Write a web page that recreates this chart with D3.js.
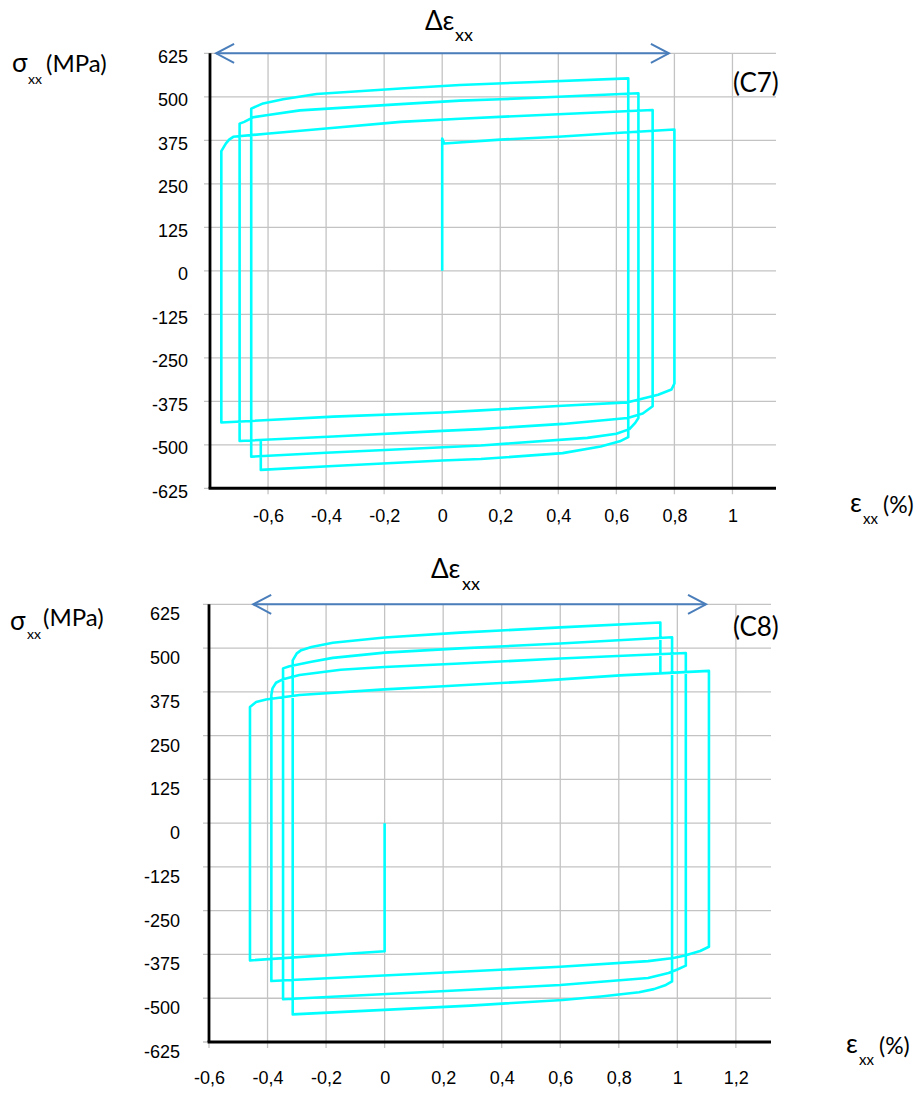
<!DOCTYPE html>
<html><head><meta charset="utf-8">
<script src="https://cdnjs.cloudflare.com/ajax/libs/d3/7.8.5/d3.min.js"></script>
<style>body{margin:0;background:#fff} svg{display:block}</style>
</head><body><svg id="c" width="920" height="1094"></svg>
<script>
// ---------- tick values ----------
const yTicks = [625, 500, 375, 250, 125, 0, -125, -250, -375, -500, -625];
const c7XTicks = [-0.6, -0.4, -0.2, 0, 0.2, 0.4, 0.6, 0.8, 1];
const c8XTicks = [-0.6, -0.4, -0.2, 0, 0.2, 0.4, 0.6, 0.8, 1, 1.2];

// ---------- C7 branches [strain %, stress MPa] ----------
const c7Loading = [[0,0],[0,380],[0.007,366],[0.2,377],[0.4,385],[0.6,396],[0.8,406]];
const c7Down1 = [[0.8,406],[0.8,-324],[0.79,-341],[0.744,-356],[0.678,-370],[0.639,-378],[0.415,-388],[0.133,-401],[0,-407],[-0.375,-419],[-0.761,-436]];
const c7Up1 = [[-0.761,-436],[-0.761,344],[-0.745,366],[-0.734,377],[-0.72,385],[-0.606,394],[-0.4,409],[-0.143,428],[0.061,437],[0.4,450],[0.725,462]];
const c7Down2 = [[0.725,462],[0.725,-389],[0.691,-410],[0.639,-423],[0.415,-440],[0.133,-455],[0,-460],[-0.375,-476],[-0.698,-489]];
const c7Up2 = [[-0.698,-489],[-0.698,423],[-0.682,428],[-0.652,441],[-0.606,447],[-0.49,461],[-0.143,479],[0.061,489],[0.2,493],[0.4,500],[0.676,510]];
const c7Down3 = [[0.676,510],[0.676,-423],[0.665,-437],[0.645,-455],[0.6,-468],[0.5,-480],[0.133,-502],[-0.4,-523],[-0.658,-534]];
const c7Up3 = [[-0.658,-534],[-0.658,466],[-0.617,481],[-0.548,493],[-0.433,508],[-0.143,524],[0.061,534],[0.3,542],[0.641,553]];
const c7Down4 = [[0.641,553],[0.641,-478],[0.612,-490],[0.546,-505],[0.415,-524],[0.133,-541],[0,-545],[-0.375,-561],[-0.625,-572]];
const c7Up4 = [[-0.625,-572],[-0.625,-486]];

// ---------- C8 branches ----------
const c8Loading = [[0,0],[0,-366],[-0.46,-392]];
const c8Up1 = [[-0.46,-392],[-0.46,332],[-0.439,346],[-0.405,353],[-0.291,366],[0,382],[0.2,391],[0.5,405],[0.805,422],[1.108,435]];
const c8Down1 = [[1.108,435],[1.108,-353],[1.078,-365],[1.026,-378],[0.987,-385],[0.9,-394],[0.6,-410],[0.293,-423],[-0.387,-451]];
const c8Up2 = [[-0.387,-451],[-0.387,366],[-0.383,385],[-0.371,401],[-0.35,410],[-0.291,423],[-0.15,438],[0,446],[0.257,456],[0.6,470],[1.029,486]];
const c8Down2 = [[1.029,486],[1.029,-407],[1.0,-418],[0.97,-428],[0.9,-442],[0.6,-462],[0.293,-476],[-0.347,-503]];
const c8Up3 = [[-0.347,-503],[-0.347,442],[-0.325,448],[-0.25,461],[-0.177,472],[0,487],[0.257,499],[0.6,513],[0.982,531]];
const c8Down3 = [[0.982,531],[0.982,-452],[0.961,-462],[0.92,-474],[0.869,-483],[0.739,-495],[0.608,-505],[0.293,-521],[-0.314,-546]];
const c8Up4 = [[-0.314,-546],[-0.314,465],[-0.3,485],[-0.285,494],[-0.25,503],[-0.177,515],[0,530],[0.257,544],[0.6,559],[0.942,573]];
const c8Down4 = [[0.942,573],[0.942,429]];

// Δε arrow extents (strain %)
const c7Range = [-0.779, 0.781];
const c8Range = [-0.449, 1.098];

const charts = [
  { name: "(C7)", branches: [c7Loading,c7Down1,c7Up1,c7Down2,c7Up2,c7Down3,c7Up3,c7Down4,c7Up4],
    xTicks: c7XTicks, xDomain: [-0.8, 1.15], xRange: [210, 776], yRange: [488.3, 53.3],
    range: c7Range, xPad: 21.2, yLabX: 22, yLabDy: 9,
    sig: {x:12, y:71.5, subx:28, suby:83.5, mpx:46, mpy:71.5},
    dE: {x:425, y:30, subx:455, suby:41},
    tag: {x:733, y:92},
    eps: {x:850, y:512, subx:863, suby:524, px:883, py:513} },
  { name: "(C8)", branches: [c8Loading,c8Up1,c8Down1,c8Up2,c8Down2,c8Up3,c8Down3,c8Up4,c8Down4],
    xTicks: c8XTicks, xDomain: [-0.6, 1.32], xRange: [209, 771], yRange: [1042, 604.3],
    range: c8Range, xPad: 29.2, yLabX: 29, yLabDy: 15.5,
    sig: {x:10, y:630, subx:27, suby:638.5, mpx:43, mpy:626},
    dE: {x:431, y:578, subx:462, suby:590},
    tag: {x:733, y:636},
    eps: {x:846, y:1052.5, subx:859, suby:1065, px:879, py:1054} }
];

const svg = d3.select("#c");
const fmt = v => String(+v.toFixed(1)).replace(".", ",");

charts.forEach(cfg => {
  const g = svg.append("g");
  const x = d3.scaleLinear().domain(cfg.xDomain).range(cfg.xRange);
  const y = d3.scaleLinear().domain([-625, 625]).range(cfg.yRange);
  const x0 = x(cfg.xDomain[0]), x1 = x(cfg.xDomain[1]);
  const yTop = y(625), yBot = y(-625);

  // grid
  g.selectAll(".gx").data(cfg.xTicks).join("line")
    .attr("x1", d => x(d)).attr("x2", d => x(d))
    .attr("y1", yTop).attr("y2", yBot + 6)
    .attr("stroke", "#c3c3c3").attr("stroke-width", 1.3);
  g.selectAll(".gy").data(yTicks).join("line")
    .attr("x1", x0 - 6).attr("x2", x1)
    .attr("y1", d => y(d)).attr("y2", d => y(d))
    .attr("stroke", "#c3c3c3").attr("stroke-width", 1.3);

  // curve
  const pts = [].concat(...cfg.branches);
  const line = d3.line().x(d => x(d[0])).y(d => y(d[1]));
  g.append("path").attr("d", line(pts))
    .attr("fill", "none").attr("stroke", "#00ffff")
    .attr("stroke-width", 2.6).attr("stroke-linejoin", "round");

  // axes lines
  g.append("line").attr("x1", x0).attr("x2", x0).attr("y1", yTop).attr("y2", yBot)
    .attr("stroke", "#000").attr("stroke-width", 2.8);
  g.append("line").attr("x1", x0 - 1.4).attr("x2", x1).attr("y1", yBot).attr("y2", yBot)
    .attr("stroke", "#000").attr("stroke-width", 3);

  // tick labels
  const ax = g.append("g").attr("transform", `translate(0,${yBot})`)
    .call(d3.axisBottom(x).tickValues(cfg.xTicks).tickFormat(fmt).tickSize(0).tickPadding(cfg.xPad));
  ax.select(".domain").remove();
  ax.selectAll("text").attr("font-family", "'Liberation Sans', Arial, sans-serif")
    .attr("font-size", 18).attr("fill", "#000");
  const ay = g.append("g").attr("transform", `translate(${x0},0)`)
    .call(d3.axisLeft(y).tickValues(yTicks).tickFormat(d => String(d)).tickSize(0).tickPadding(cfg.yLabX));
  ay.select(".domain").remove();
  ay.selectAll("text").attr("font-family", "'Liberation Sans', Arial, sans-serif")
    .attr("font-size", 18).attr("fill", "#000").attr("dy", cfg.yLabDy);

  // Δε arrow
  const ya = y(625), xa = x(cfg.range[0]), xb = x(cfg.range[1]);
  const blue = "#4a7ebb";
  g.append("line").attr("x1", xa).attr("x2", xb).attr("y1", ya).attr("y2", ya)
    .attr("stroke", blue).attr("stroke-width", 2);
  g.append("polyline").attr("points", `${xa+18},${ya-9.5} ${xa},${ya} ${xa+18},${ya+9.5}`)
    .attr("fill", "none").attr("stroke", blue).attr("stroke-width", 2);
  g.append("polyline").attr("points", `${xb-18},${ya-9.5} ${xb},${ya} ${xb-18},${ya+9.5}`)
    .attr("fill", "none").attr("stroke", blue).attr("stroke-width", 2);

  const TF = "Lato, 'Open Sans', sans-serif";
  // titles
  g.append("text").attr("x", cfg.dE.x).attr("y", cfg.dE.y).attr("font-family", TF)
    .attr("font-size", 26).text("Δε");
  g.append("text").attr("x", cfg.dE.subx).attr("y", cfg.dE.suby).attr("font-family", TF)
    .attr("font-size", 18).text("xx");
  g.append("text").attr("x", cfg.tag.x).attr("y", cfg.tag.y).attr("font-family", TF)
    .attr("font-size", 26).text(cfg.name);
  // y title
  g.append("text").attr("x", cfg.sig.x).attr("y", cfg.sig.y).attr("font-family", TF)
    .attr("font-size", 26).text("σ");
  g.append("text").attr("x", cfg.sig.subx).attr("y", cfg.sig.suby).attr("font-family", TF)
    .attr("font-size", 14).text("xx");
  g.append("text").attr("x", cfg.sig.mpx).attr("y", cfg.sig.mpy).attr("font-family", TF)
    .attr("font-size", 24).text("(MPa)");
  // x title
  g.append("text").attr("x", cfg.eps.x).attr("y", cfg.eps.y).attr("font-family", TF)
    .attr("font-size", 26).text("ε");
  g.append("text").attr("x", cfg.eps.subx).attr("y", cfg.eps.suby).attr("font-family", TF)
    .attr("font-size", 15).text("xx");
  g.append("text").attr("x", cfg.eps.px).attr("y", cfg.eps.py).attr("font-family", TF)
    .attr("font-size", 23).text("(%)");
});
</script></body></html>
